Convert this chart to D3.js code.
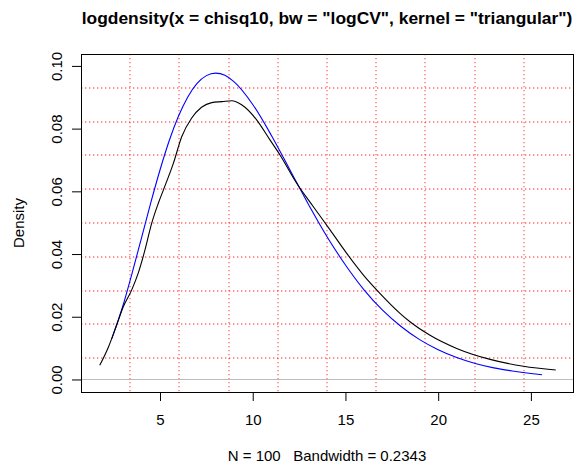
<!DOCTYPE html>
<html>
<head>
<meta charset="utf-8">
<script src="https://cdn.jsdelivr.net/npm/d3@7"></script>
<style>
  body { margin: 0; background: #fff; }
  svg { font-family: "Liberation Sans", Arial, Helvetica, sans-serif; }
</style>
</head>
<body>
<svg id="chart" width="580" height="466"></svg>
<script>
    // kernel estimate (black)
    var estX = [1.75, 2.21, 2.66, 3.02, 3.47, 3.83, 4.19, 4.55, 4.91, 5.18, 5.72, 6.17, 6.70, 7.24, 7.79, 8.35, 8.87, 9.40, 10.21, 10.93, 11.47, 12.37, 13.27, 14.17, 15.07, 15.97, 16.87, 17.94, 18.48, 19.56, 21.0, 22.8, 24.6, 26.34];
    var estY = [0.0045, 0.0102, 0.0173, 0.0232, 0.0285, 0.0340, 0.0413, 0.0498, 0.0562, 0.0604, 0.0689, 0.0774, 0.0833, 0.0868, 0.0883, 0.0886, 0.0889, 0.0876, 0.0828, 0.0764, 0.0716, 0.0626, 0.0551, 0.0477, 0.0402, 0.0333, 0.0274, 0.0211, 0.0184, 0.0141, 0.0099, 0.0064, 0.0042, 0.0030];
    // true chi-square(10) density (blue)
    var trueX = [2.4, 3, 3.5, 4, 4.5, 5, 5.5, 6, 6.5, 7, 7.5, 8, 8.5, 9, 10, 11, 12, 13, 14, 15, 16, 17, 18, 19, 20, 21, 22, 23, 24, 25, 25.6];
    var trueY = [0.0130, 0.0235, 0.0340, 0.0451, 0.0563, 0.0668, 0.0762, 0.0840, 0.0901, 0.0944, 0.0969, 0.0977, 0.0970, 0.0949, 0.0877, 0.0779, 0.0669, 0.0559, 0.0456, 0.0365, 0.0286, 0.0221, 0.0169, 0.0127, 0.0095, 0.0070, 0.0051, 0.0037, 0.0027, 0.0019, 0.0015];
    var xTicks = [5, 10, 15, 20, 25];
    var yTicks = [0, 0.02, 0.04, 0.06, 0.08, 0.10];
    var TITLE = 'logdensity(x = chisq10, bw = "logCV", kernel = "triangular")';
    var XLAB = "N = 100   Bandwidth = 0.2343";
    var YLAB = "Density";

    var LEFT = 81, RIGHT = 573, TOP = 54, BOTTOM = 392;
    var TICK = 9; //px
    var FS = 15; //px

    var svg = d3.select("#chart");

    var x = d3.scaleLinear().domain([0.74, 27.27]).range([LEFT, RIGHT]);
    var y = d3.scaleLinear().domain([-0.0040, 0.1038]).range([BOTTOM, TOP]);

    // grid, 10 equal parts of the plot region
    var grid = svg.append("g").attr("class", "grid")
        .attr("stroke", "#ff2a2a").attr("stroke-opacity", 0.7).attr("stroke-width", 1.3)
        .attr("stroke-dasharray", "1.3,2.7").attr("fill", "none");
    d3.range(1, 10).forEach(function(i){
        var gx = Math.round(LEFT + (RIGHT - LEFT) * i / 10);
        var gy = Math.round(TOP + (BOTTOM - TOP) * i / 10);
        grid.append("line").attr("x1", gx).attr("x2", gx).attr("y1", TOP).attr("y2", BOTTOM);
        grid.append("line").attr("x1", LEFT).attr("x2", RIGHT).attr("y1", gy).attr("y2", gy);
    });

    // zero line
    svg.append("line")
        .attr("x1", LEFT).attr("x2", RIGHT)
        .attr("y1", Math.round(y(0)) + 0.5).attr("y2", Math.round(y(0)) + 0.5)
        .attr("stroke", "#bebebe").attr("stroke-width", 1);

    var line = d3.line().curve(d3.curveMonotoneX)
        .x(function(d){ return x(d[0]); })
        .y(function(d){ return y(d[1]); });

    svg.append("path")
        .attr("d", line(trueX.map(function(v, i){ return [v, trueY[i]]; })))
        .attr("fill", "none").attr("stroke", "#0000ff").attr("stroke-width", 1.1);

    svg.append("path")
        .attr("d", line(estX.map(function(v, i){ return [v, estY[i]]; })))
        .attr("fill", "none").attr("stroke", "#000").attr("stroke-width", 1.1);

    // axes
    var xAxis = d3.axisBottom(x).tickValues(xTicks).tickSize(TICK).tickPadding(13).tickFormat(d3.format("d"));
    svg.append("g")
        .attr("transform", "translate(0," + BOTTOM + ")")
        .call(xAxis)
        .call(function(g){ g.select(".domain").remove(); })
        .selectAll("text")
            .attr("font-size", FS).attr("fill", "#000")
            .attr("font-family", "Liberation Sans, Arial, sans-serif");

    var yAxis = d3.axisLeft(y).tickValues(yTicks).tickSize(TICK).tickFormat(d3.format(".2f"));
    var yg = svg.append("g")
        .attr("transform", "translate(" + LEFT + ",0)")
        .call(yAxis)
        .call(function(g){ g.select(".domain").remove(); });
    yg.selectAll(".tick text")
        .attr("font-size", FS).attr("fill", "#000")
        .attr("font-family", "Liberation Sans, Arial, sans-serif")
        .attr("x", null).attr("dy", null)
        .attr("text-anchor", "middle")
        .attr("transform", "translate(-19,0) rotate(-90)");
    svg.selectAll(".tick line").attr("stroke", "#000");

    // box
    svg.append("rect")
        .attr("x", LEFT + 0.5).attr("y", TOP + 0.5)
        .attr("width", RIGHT - LEFT).attr("height", BOTTOM - TOP)
        .attr("fill", "none").attr("stroke", "#000").attr("stroke-width", 1);

    // labels
    svg.append("text")
        .attr("x", (LEFT + RIGHT) / 2).attr("y", 24)
        .attr("text-anchor", "middle")
        .attr("font-size", 17.4).attr("font-weight", "bold")
        .text(TITLE);

    svg.append("text")
        .attr("x", (LEFT + RIGHT) / 2).attr("y", 461)
        .attr("text-anchor", "middle")
        .attr("font-size", FS)
        .style("white-space", "pre")
        .text(XLAB);

    svg.append("text")
        .attr("transform", "translate(24," + ((TOP + BOTTOM) / 2) + ") rotate(-90)")
        .attr("text-anchor", "middle")
        .attr("font-size", FS)
        .text(YLAB);
</script>
</body>
</html>
